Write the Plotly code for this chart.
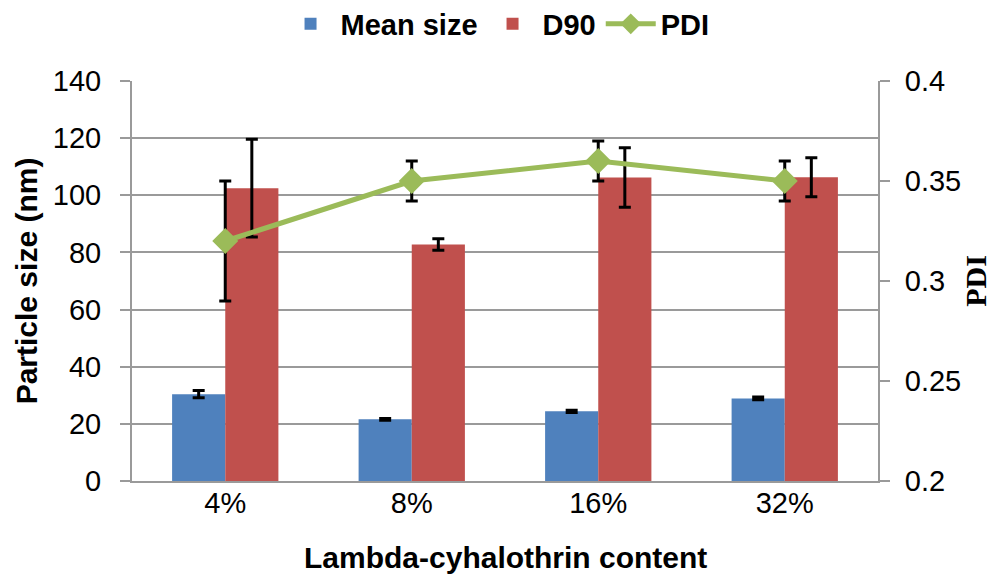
import plotly.graph_objects as go

categories = ["4%", "8%", "16%", "32%"]
mean_size = [30.4, 21.6, 24.4, 28.9]
mean_err = [1.3, 0.3, 0.4, 0.5]
d90 = [102.5, 82.8, 106.2, 106.3]
d90_err = [17.1, 2.0, 10.4, 6.8]
pdi = [0.32, 0.35, 0.36, 0.35]
pdi_err = [0.03, 0.01, 0.01, 0.01]

grid = "#9a9a9a"
tickfont = dict(family="Liberation Sans, Arial", size=29, color="#000000")
titlefont = dict(family="Liberation Sans, Arial", size=30, color="#000000", weight="bold")

fig = go.Figure()
fig.add_trace(go.Bar(
    x=categories, y=mean_size, name="Mean size",
    marker=dict(color="#4F81BD", line=dict(width=0)),
    error_y=dict(type="data", array=mean_err, visible=True, color="#000000", thickness=3, width=6),
))
fig.add_trace(go.Bar(
    x=categories, y=d90, name="D90",
    marker=dict(color="#C0504D", line=dict(width=0)),
    error_y=dict(type="data", array=d90_err, visible=True, color="#000000", thickness=3, width=6),
))
fig.add_trace(go.Scatter(
    x=categories, y=pdi, name="PDI", yaxis="y2", mode="lines+markers",
    line=dict(color="#9BBB59", width=5),
    marker=dict(symbol="diamond", size=20, color="#9BBB59"),
    error_y=dict(type="data", array=pdi_err, visible=True, color="#000000", thickness=3, width=6),
))

fig.update_layout(
    width=992, height=566,
    margin=dict(l=124, r=122, t=73, b=93, autoexpand=False),
    paper_bgcolor="white", plot_bgcolor="white",
    barmode="group", bargap=0.43, bargroupgap=0,
    showlegend=True,
    legend=dict(orientation="h", x=0.49, xanchor="center", y=1.1425, yanchor="middle",
                font=dict(family="Liberation Sans, Arial", size=29, color="#000000", weight="bold"),
                itemwidth=50, bgcolor="rgba(0,0,0,0)", traceorder="normal"),
    xaxis=dict(
        type="category", showgrid=False, showline=True, linecolor=grid, linewidth=2,
        ticks="", tickfont=tickfont, ticklabelstandoff=-5,
        automargin=False,
    ),
    yaxis=dict(
        range=[0, 140], dtick=20, showgrid=True, gridcolor=grid, gridwidth=2,
        showline=True, linecolor=grid, linewidth=2, ticks="outside", ticklen=10,
        tickcolor=grid, tickwidth=2, tickfont=tickfont, ticklabelstandoff=13,
        title=dict(text="Particle size (nm)", font=titlefont, standoff=6),
        zeroline=False, automargin=False,
    ),
    yaxis2=dict(
        range=[0.2, 0.4], dtick=0.05, overlaying="y", side="right", showgrid=False,
        showline=True, linecolor=grid, linewidth=2, ticks="outside", ticklen=10,
        tickcolor=grid, tickwidth=2, tickfont=tickfont, ticklabelstandoff=9,
        title=dict(text="PDI", font=dict(family="Liberation Serif, Times New Roman", size=30,
                                          color="#000000", weight="bold"), standoff=5),
        zeroline=False, automargin=False,
    ),
    annotations=[dict(
        text="Lambda-cyhalothrin content", xref="paper", yref="paper",
        x=0.5, y=-0.19, xanchor="center", yanchor="middle", showarrow=False,
        font=titlefont,
    )],
)

fig.write_html("out.html")
